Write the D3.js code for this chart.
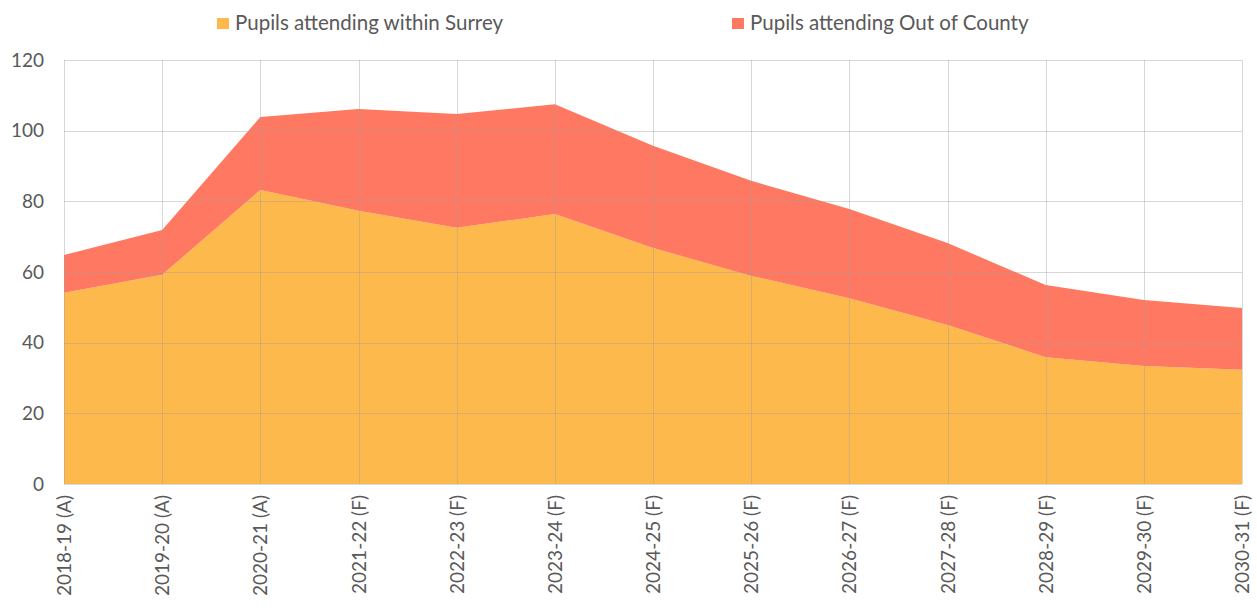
<!DOCTYPE html>
<html>
<head>
<meta charset="utf-8">
<title>Pupils attending</title>
<script src="https://d3js.org/d3.v7.min.js"></script>
<style>
  body { margin: 0; background: #fff; }
  text { font-family: Lato, "Open Sans", sans-serif; fill: #595959; }
</style>
</head>
<body>
<svg id="chart" width="1257" height="608"></svg>
<script>
// values
var years = ["2018-19 (A)", "2019-20 (A)", "2020-21 (A)", "2021-22 (F)", "2022-23 (F)",
             "2023-24 (F)", "2024-25 (F)", "2025-26 (F)", "2026-27 (F)", "2027-28 (F)",
             "2028-29 (F)", "2029-30 (F)", "2030-31 (F)"]
var withinSurrey = [54.1, 59.2, 83.2, 77.3, 72.5, 76.4, 66.8, 58.9, 52.6, 45.0, 35.9, 33.4, 32.3]
var outOfCounty  = [10.7, 12.7, 20.7, 28.8, 32.2, 31.1, 28.9, 26.9, 25.2, 23.2, 20.4, 18.7, 17.5]
var yTicks = [0, 20, 40, 60, 80, 100, 120]
var seriesNames = ["Pupils attending within Surrey", "Pupils attending Out of County"]
var colours = ["#fdb94b", "#ff7962"]

var svg = d3.select("#chart")
var m = {left: 64, right: 15, top: 60, bottom: 124}
var w = 1257 - m.left - m.right, h = 608 - m.top - m.bottom

var x = d3.scalePoint().domain(years).range([0, w])
var y = d3.scaleLinear().domain([0, 120]).range([h, 0])

var g = svg.append("g").attr("transform", "translate(" + m.left + "," + m.top + ")")

var rows = years.map(function(d, i) {
    return {year: d, a: withinSurrey[i], b: outOfCounty[i]}
})
var stacked = d3.stack().keys(["a", "b"])(rows)

var area = d3.area()
    .x(function(d) { return x(d.data.year) })
    .y0(function(d) { return y(d[0]) })
    .y1(function(d) { return y(d[1]) })

g.selectAll("path.area")
    .data(stacked)
    .enter().append("path")
    .attr("class", "area")
    .attr("fill", function(d, i) { return colours[i] })
    .attr("d", area)

// grid drawn over the fill, faint like the original
var grid = g.append("g").attr("stroke", "#9e9e9e").attr("stroke-opacity", 0.4).attr("stroke-width", 1)
grid.selectAll("line.h")
    .data(yTicks.slice(1))
    .enter().append("line")
    .attr("x1", 0).attr("x2", w)
    .attr("y1", function(d) { return Math.round(y(d)) + 0.5 })
    .attr("y2", function(d) { return Math.round(y(d)) + 0.5 })
grid.selectAll("line.v")
    .data(years)
    .enter().append("line")
    .attr("y1", 0).attr("y2", h)
    .attr("x1", function(d) { return Math.round(x(d)) + 0.5 })
    .attr("x2", function(d) { return Math.round(x(d)) + 0.5 })

// base line
g.append("line")
    .attr("x1", 0).attr("x2", w)
    .attr("y1", h + 0.5).attr("y2", h + 0.5)
    .attr("stroke", "#d9d9d9")

// y axis labels
var yAxis = g.append("g")
    .call(d3.axisLeft(y).tickValues(yTicks).tickSize(0).tickPadding(20))
yAxis.select(".domain").remove()
yAxis.selectAll("text").style("font-size", "19px").attr("fill", "#595959")

// x axis labels, rotated
var xAxis = g.append("g")
    .attr("transform", "translate(0," + h + ")")
    .call(d3.axisBottom(x).tickSize(0))
xAxis.select(".domain").remove()
xAxis.selectAll("text")
    .style("font-size", "19px")
    .attr("fill", "#595959")
    .attr("transform", "rotate(-90)")
    .attr("text-anchor", "end")
    .attr("x", -11)
    .attr("y", 0)
    .attr("dy", "0.35em")

// legend
var legX = [217, 732]
var leg = svg.selectAll("g.leg")
    .data(seriesNames)
    .enter().append("g")
    .attr("transform", function(d, i) { return "translate(" + legX[i] + ",18)" })
leg.append("rect").attr("width", 12).attr("height", 11)
    .attr("fill", function(d, i) { return colours[i] })
leg.append("text")
    .attr("x", 18).attr("y", 5).attr("dy", "0.35em")
    .style("font-size", "20.5px")
    .text(function(d) { return d })
</script>
</body>
</html>
